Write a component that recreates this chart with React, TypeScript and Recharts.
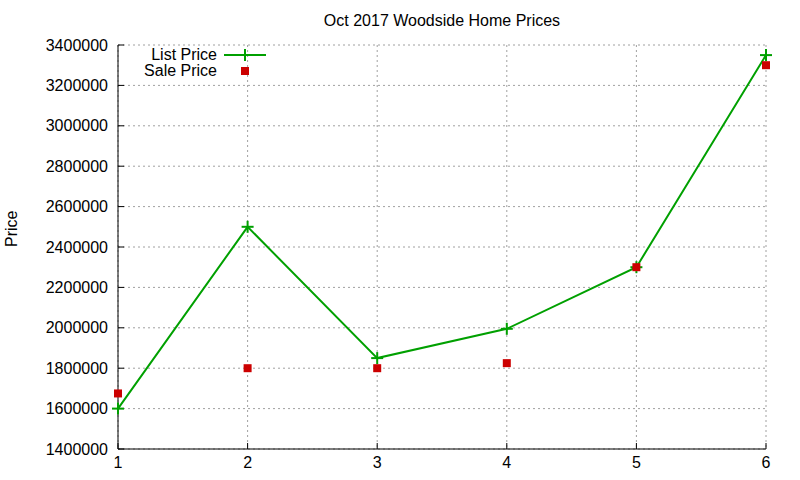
import {
  ComposedChart,
  Line,
  XAxis,
  YAxis,
  CartesianGrid,
  Legend,
} from 'recharts';

const months = [1, 2, 3, 4, 5, 6];
const listPrice = [1600000, 2500000, 1850000, 1995000, 2300000, 3350000];
const salePrice = [1675000, 1800000, 1800000, 1825000, 2300000, 3300000];
const xTicks = [1, 2, 3, 4, 5, 6];
const yTicks = [1400000, 1600000, 1800000, 2000000, 2200000, 2400000, 2600000, 2800000, 3000000, 3200000, 3400000];

const GREEN = '#00a000';
const RED = '#cc0000';
const FONT = '"Liberation Sans", Arial, sans-serif';

const data = months.map((m, i) => ({ x: m, list: listPrice[i], sale: salePrice[i] }));

// gnuplot style "+" point
const PlusDot = (props: any) => {
  const { cx, cy } = props;
  if (cx == null || cy == null) return <g />;
  return (
    <g stroke={GREEN} strokeWidth={2}>
      <line x1={cx - 6} y1={cy} x2={cx + 6} y2={cy} />
      <line x1={cx} y1={cy - 6} x2={cx} y2={cy + 6} />
    </g>
  );
};

const SquareDot = (props: any) => {
  const { cx, cy } = props;
  if (cx == null || cy == null) return <g />;
  return <rect x={cx - 4} y={cy - 4} width={8} height={8} fill={RED} />;
};

const LegendBox = () => (
  <div style={{ fontFamily: FONT, fontSize: 16, color: '#000', lineHeight: '16px' }}>
    <div style={{ display: 'flex', alignItems: 'center', height: 16 }}>
      <span style={{ width: 100, textAlign: 'right' }}>List Price</span>
      <svg width={50} height={16} style={{ marginLeft: 7 }}>
        <line x1={0} y1={8} x2={42} y2={8} stroke={GREEN} strokeWidth={2} />
        <line x1={21} y1={2} x2={21} y2={14} stroke={GREEN} strokeWidth={2} />
      </svg>
    </div>
    <div style={{ display: 'flex', alignItems: 'center', height: 16 }}>
      <span style={{ width: 100, textAlign: 'right' }}>Sale Price</span>
      <svg width={50} height={16} style={{ marginLeft: 7 }}>
        <rect x={17} y={4} width={8} height={8} fill={RED} />
      </svg>
    </div>
  </div>
);

const hiddenTick = () => <g />;

export default function App() {
  return (
    <div style={{ position: 'absolute', left: 0, top: 0, width: 800, height: 480, background: '#fff' }}>
      <div
        style={{
          position: 'absolute',
          left: 118,
          width: 648,
          top: 12,
          textAlign: 'center',
          fontFamily: FONT,
          fontSize: 16,
        }}
      >
        Oct 2017 Woodside Home Prices
      </div>
      <ComposedChart
        width={800}
        height={480}
        data={data}
        margin={{ top: 45, right: 34, bottom: 7, left: 8 }}
        style={{ fontFamily: FONT }}
      >
        <CartesianGrid stroke="#a0a0a0" strokeDasharray="2 3" />
        <XAxis
          dataKey="x"
          type="number"
          domain={[1, 6]}
          ticks={xTicks}
          height={24}
          axisLine={{ stroke: '#000' }}
          tickLine={{ stroke: '#000' }}
          tickSize={-6}
          tickMargin={14}
          tick={{ fill: '#000', fontSize: 16 }}
        />
        <XAxis
          xAxisId="top"
          orientation="top"
          type="number"
          domain={[1, 6]}
          ticks={xTicks}
          height={0}
          axisLine={{ stroke: '#000' }}
          tickLine={{ stroke: '#000' }}
          tickSize={-6}
          tick={hiddenTick}
        />
        <YAxis
          type="number"
          domain={[1400000, 3400000]}
          ticks={yTicks}
          width={110}
          axisLine={{ stroke: '#000' }}
          tickLine={{ stroke: '#000' }}
          tickSize={-6}
          tickMargin={16}
          tick={{ fill: '#000', fontSize: 16 }}
          label={{ value: 'Price', angle: -90, position: 'insideLeft', offset: 3, fill: '#000', fontSize: 16 }}
        />
        <YAxis
          yAxisId="right"
          orientation="right"
          type="number"
          domain={[1400000, 3400000]}
          ticks={yTicks}
          width={0}
          axisLine={{ stroke: '#000' }}
          tickLine={{ stroke: '#000' }}
          tickSize={-6}
          tick={hiddenTick}
        />
        <Legend
          content={<LegendBox />}
          layout="vertical"
          verticalAlign="middle"
          align="center"
          wrapperStyle={{ left: 117, top: 47, width: 170 }}
        />
        <Line
          dataKey="list"
          name="List Price"
          stroke={GREEN}
          strokeWidth={2}
          dot={<PlusDot />}
          activeDot={false}
          isAnimationActive={false}
        />
        <Line
          dataKey="sale"
          name="Sale Price"
          stroke="none"
          dot={<SquareDot />}
          activeDot={false}
          legendType="none"
          isAnimationActive={false}
        />
      </ComposedChart>
    </div>
  );
}
